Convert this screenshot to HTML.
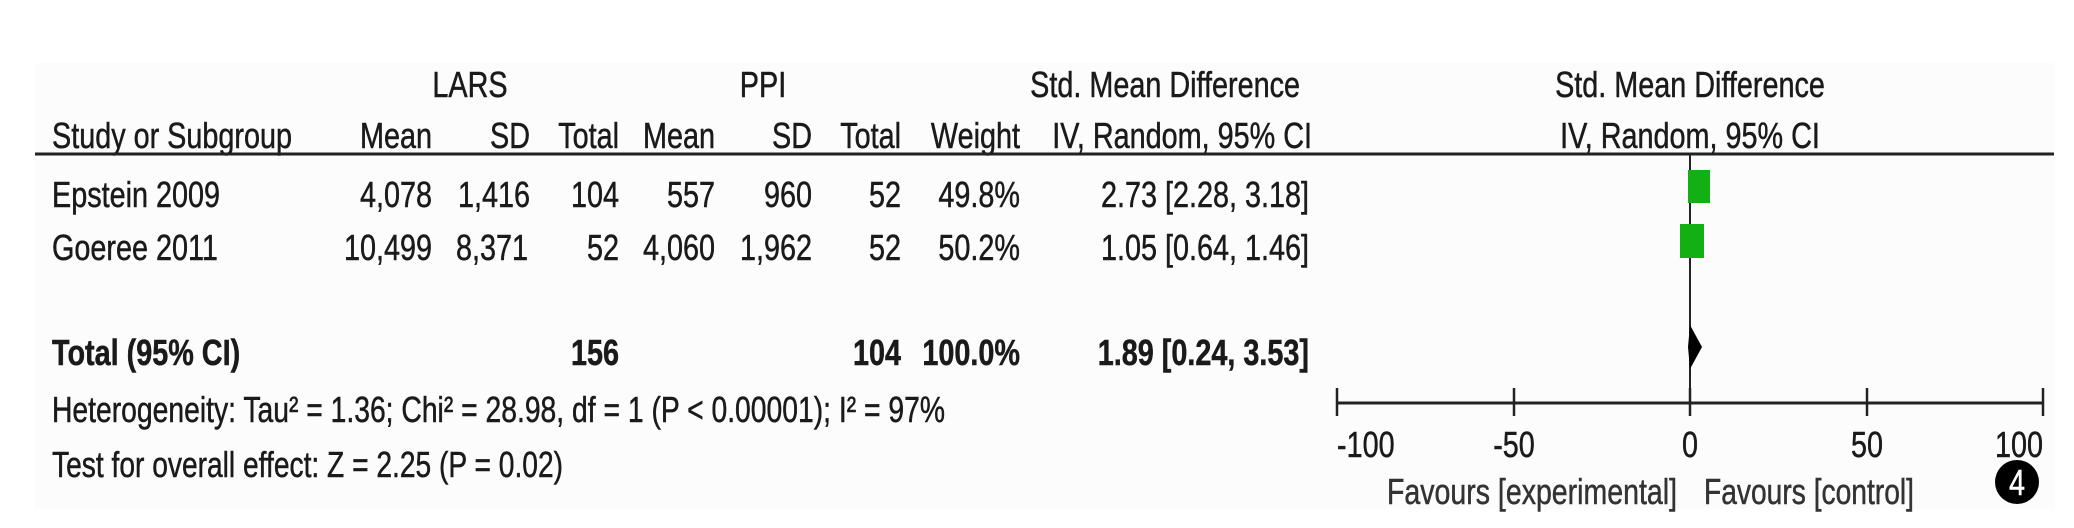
<!DOCTYPE html>
<html><head><meta charset="utf-8"><style>
html,body{margin:0;padding:0;background:#fff;}
svg{display:block;}
text{font-family:"Liberation Sans",sans-serif;font-size:36px;fill:#1a1a1a;stroke:#1a1a1a;stroke-width:0.5;}
</style></head><body>
<svg width="2074" height="528" viewBox="0 0 2074 528" xmlns="http://www.w3.org/2000/svg">
<rect x="0" y="0" width="2074" height="528" fill="#fff"/>
<rect x="35" y="63" width="2020" height="446" fill="#fcfcfc"/>
<text transform="translate(470,97) scale(0.8,1)" text-anchor="middle">LARS</text>
<text transform="translate(763,97) scale(0.8,1)" text-anchor="middle">PPI</text>
<text transform="translate(1300,97) scale(0.8,1)" text-anchor="end">Std. Mean Difference</text>
<text transform="translate(1690,97) scale(0.8,1)" text-anchor="middle">Std. Mean Difference</text>
<text transform="translate(52,148) scale(0.8,1)">Study or Subgroup</text>
<text transform="translate(432,148) scale(0.8,1)" text-anchor="end">Mean</text>
<text transform="translate(530,148) scale(0.8,1)" text-anchor="end">SD</text>
<text transform="translate(619,148) scale(0.8,1)" text-anchor="end">Total</text>
<text transform="translate(715,148) scale(0.8,1)" text-anchor="end">Mean</text>
<text transform="translate(812,148) scale(0.8,1)" text-anchor="end">SD</text>
<text transform="translate(901,148) scale(0.8,1)" text-anchor="end">Total</text>
<text transform="translate(1020,148) scale(0.8,1)" text-anchor="end">Weight</text>
<text transform="translate(1312,148) scale(0.8,1)" text-anchor="end">IV, Random, 95% CI</text>
<text transform="translate(1690,148) scale(0.8,1)" text-anchor="middle">IV, Random, 95% CI</text>
<line x1="35" y1="154" x2="2054" y2="154" stroke="#222" stroke-width="3"/>
<text transform="translate(52,207) scale(0.8,1)">Epstein 2009</text>
<text transform="translate(432,207) scale(0.8,1)" text-anchor="end">4,078</text>
<text transform="translate(530,207) scale(0.8,1)" text-anchor="end">1,416</text>
<text transform="translate(619,207) scale(0.8,1)" text-anchor="end">104</text>
<text transform="translate(715,207) scale(0.8,1)" text-anchor="end">557</text>
<text transform="translate(812,207) scale(0.8,1)" text-anchor="end">960</text>
<text transform="translate(901,207) scale(0.8,1)" text-anchor="end">52</text>
<text transform="translate(1020,207) scale(0.8,1)" text-anchor="end">49.8%</text>
<text transform="translate(1309,207) scale(0.8,1)" text-anchor="end">2.73 [2.28, 3.18]</text>
<text transform="translate(52,260) scale(0.8,1)">Goeree 2011</text>
<text transform="translate(432,260) scale(0.8,1)" text-anchor="end">10,499</text>
<text transform="translate(528,260) scale(0.8,1)" text-anchor="end">8,371</text>
<text transform="translate(619,260) scale(0.8,1)" text-anchor="end">52</text>
<text transform="translate(715,260) scale(0.8,1)" text-anchor="end">4,060</text>
<text transform="translate(812,260) scale(0.8,1)" text-anchor="end">1,962</text>
<text transform="translate(901,260) scale(0.8,1)" text-anchor="end">52</text>
<text transform="translate(1020,260) scale(0.8,1)" text-anchor="end">50.2%</text>
<text transform="translate(1309,260) scale(0.8,1)" text-anchor="end">1.05 [0.64, 1.46]</text>
<text transform="translate(52,365) scale(0.8,1)" style="font-weight:bold">Total (95% CI)</text>
<text transform="translate(619,365) scale(0.8,1)" text-anchor="end" style="font-weight:bold">156</text>
<text transform="translate(901,365) scale(0.8,1)" text-anchor="end" style="font-weight:bold">104</text>
<text transform="translate(1020,365) scale(0.8,1)" text-anchor="end" style="font-weight:bold">100.0%</text>
<text transform="translate(1309,365) scale(0.8,1)" text-anchor="end" style="font-weight:bold">1.89 [0.24, 3.53]</text>
<text x="52" y="422" textLength="893" lengthAdjust="spacingAndGlyphs">Heterogeneity: Tau² = 1.36; Chi² = 28.98, df = 1 (P &lt; 0.00001); I² = 97%</text>
<text x="52" y="477" textLength="511" lengthAdjust="spacingAndGlyphs">Test for overall effect: Z = 2.25 (P = 0.02)</text>
<line x1="1690" y1="154" x2="1690" y2="403" stroke="#222" stroke-width="2"/>
<rect x="1688" y="170" width="22" height="33" fill="#12b012"/>
<rect x="1680" y="224" width="24" height="34" fill="#12b012"/>
<polygon points="1690,325 1702,347 1690,369 1688,347" fill="#000"/>
<line x1="1337" y1="403" x2="2043" y2="403" stroke="#222" stroke-width="3"/>
<g stroke="#222" stroke-width="2.5">
<line x1="1337" y1="388" x2="1337" y2="416"/>
<line x1="1514" y1="388" x2="1514" y2="416"/>
<line x1="1690" y1="388" x2="1690" y2="416"/>
<line x1="1867" y1="388" x2="1867" y2="416"/>
<line x1="2043" y1="388" x2="2043" y2="416"/>
</g>
<text transform="translate(1337,457) scale(0.8,1)">-100</text>
<text transform="translate(1514,457) scale(0.8,1)" text-anchor="middle">-50</text>
<text transform="translate(1690,457) scale(0.8,1)" text-anchor="middle">0</text>
<text transform="translate(1867,457) scale(0.8,1)" text-anchor="middle">50</text>
<text transform="translate(2043,457) scale(0.8,1)" text-anchor="end">100</text>
<text x="1387" y="504" textLength="290" lengthAdjust="spacingAndGlyphs" style="fill:#333;stroke:#333">Favours [experimental]</text>
<text x="1704" y="504" textLength="210" lengthAdjust="spacingAndGlyphs" style="fill:#333;stroke:#333">Favours [control]</text>
<circle cx="2017" cy="482" r="22" fill="#000"/>
<text transform="translate(2017,495) scale(0.8,1)" text-anchor="middle" style="fill:#fff;stroke:#fff;font-size:36px">4</text>
</svg>
</body></html>
